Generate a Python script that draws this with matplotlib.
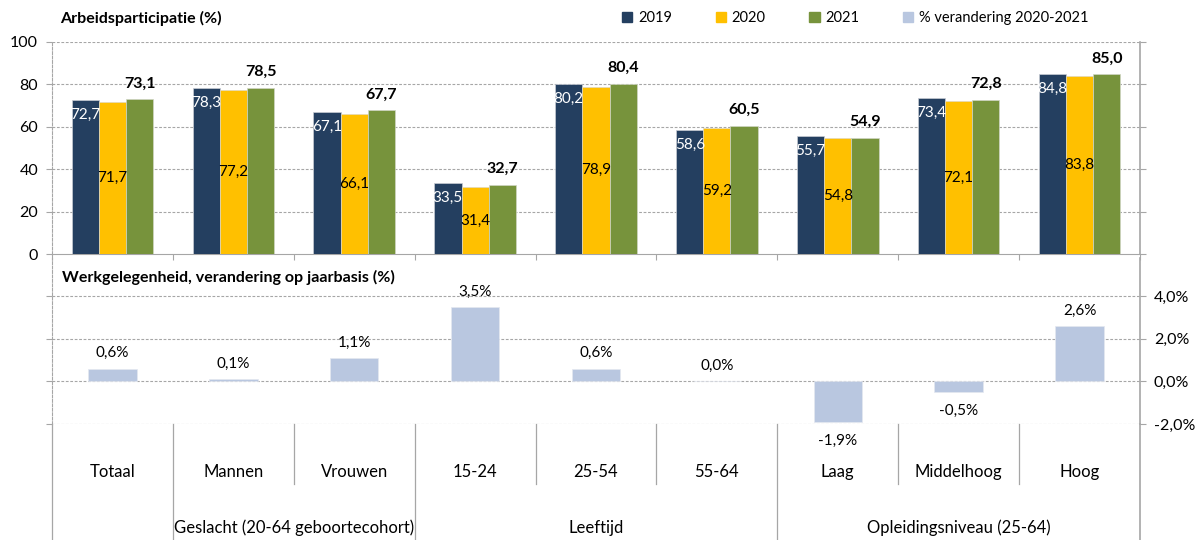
import matplotlib
matplotlib.use("Agg")
import matplotlib.pyplot as plt
import matplotlib.transforms as mtransforms
from matplotlib.patches import Patch
import numpy as np

plt.rcParams['font.family'] = ['Lato', 'DejaVu Sans']

categories = ["Totaal", "Mannen", "Vrouwen", "15-24", "25-54", "55-64",
              "Laag", "Middelhoog", "Hoog"]
groups = ["Geslacht (20-64 geboortecohort)", "Leeftijd", "Opleidingsniveau (25-64)"]
group_centers = [1.5, 4, 7]
group_bounds = [-0.5, 0.5, 2.5, 5.5, 8.5]

v2019 = [72.7, 78.3, 67.1, 33.5, 80.2, 58.6, 55.7, 73.4, 84.8]
v2020 = [71.7, 77.2, 66.1, 31.4, 78.9, 59.2, 54.8, 72.1, 83.8]
v2021 = [73.1, 78.5, 67.7, 32.7, 80.4, 60.5, 54.9, 72.8, 85.0]
change = [0.6, 0.1, 1.1, 3.5, 0.6, 0.0, -1.9, -0.5, 2.6]

c19, c20, c21, cch = '#243f60', '#ffc000', '#77933c', '#b9c7e0'
grid = '#a6a6a6'
W, H = 1196, 540


def fmt(v):
    return f"{v:.1f}".replace('.', ',')


fig = plt.figure(figsize=(W / 100, H / 100), dpi=100)
ax1 = fig.add_axes([52 / W, 1 - 254 / H, 1088 / W, 212 / H])
ax2 = fig.add_axes([52 / W, 1 - 424 / H, 1088 / W, 166 / H])

x = np.arange(len(categories))
bw = 0.225

# ---- top chart: arbeidsparticipatie
ax1.bar(x - bw, v2019, bw, color=c19, edgecolor='#c8ccd4', linewidth=0.5, zorder=3)
ax1.bar(x, v2020, bw, color=c20, edgecolor='#e0d8c0', linewidth=0.5, zorder=3)
ax1.bar(x + bw, v2021, bw, color=c21, edgecolor='#d0d6c4', linewidth=0.5, zorder=3)
for i in range(len(x)):
    ax1.text(x[i] - bw, v2019[i] - 7, fmt(v2019[i]), color='white', ha='center',
             va='center', fontsize=11, zorder=4)
    ax1.text(x[i], v2020[i] / 2, fmt(v2020[i]), color='black', ha='center',
             va='center', fontsize=11, zorder=4)
    ax1.text(x[i] + bw, v2021[i] + 7.3, fmt(v2021[i]), color='black', ha='center',
             va='center', fontsize=11.5, fontweight='bold', zorder=4)

ax1.set_xlim(-0.5, 8.5)
ax1.set_ylim(0, 100)
ax1.set_yticks(range(0, 101, 20))
for yv in range(20, 101, 20):
    ax1.axhline(yv, color=grid, lw=0.8, ls=(0, (2.5, 1.5)), zorder=1)
ax1.set_xticks(np.arange(-0.5, 8.6, 1))
ax1.set_xticklabels([])
ax1.tick_params(axis='x', length=4, color=grid, direction='out')
ax1.tick_params(axis='y', length=4, color=grid, labelsize=11.5, right=True,
                pad=6)
ax1.spines['top'].set_visible(False)
ax1.spines['left'].set_color(grid)
ax1.spines['left'].set_linestyle((0, (2.5, 1.5)))
ax1.spines['left'].set_linewidth(0.8)
ax1.spines['bottom'].set_color(grid)
ax1.spines['right'].set_color(grid)
ax1.spines['right'].set_linewidth(1.2)
ax1.patch.set_alpha(0)

# ---- bottom chart: werkgelegenheid
ax2.bar(x, change, 0.4, color=cch, edgecolor='#e4e8f0', linewidth=0.5, zorder=3)
for i, v in enumerate(change):
    if v >= 0:
        ax2.annotate(fmt(v) + '%', (x[i], v), xytext=(0, 11), textcoords='offset points',
                     ha='center', va='center', fontsize=11)
    else:
        ax2.annotate(fmt(v) + '%', (x[i], v), xytext=(0, -13.5), textcoords='offset points',
                     ha='center', va='center', fontsize=11)

ax2.set_xlim(-0.5, 8.5)
ax2.set_ylim(-2, 5.8)
ax2.set_yticks([-2, 0, 2, 4])
ax2.set_yticklabels([fmt(v) + '%' for v in [-2, 0, 2, 4]])
for yv in [-2, 0, 2, 4]:
    ax2.axhline(yv, color=grid, lw=0.8, ls=(0, (2.5, 1.5)), zorder=1)
ax2.set_xticks([])
ax2.tick_params(axis='y', length=4, color=grid, labelsize=11.5, left=True,
                right=True, labelleft=False, labelright=True, pad=6)
for s in ['top', 'bottom']:
    ax2.spines[s].set_visible(False)
ax2.spines['left'].set_color(grid)
ax2.spines['left'].set_linestyle((0, (2.5, 1.5)))
ax2.spines['left'].set_linewidth(0.8)
ax2.spines['right'].set_color(grid)
ax2.spines['right'].set_linewidth(1.2)
ax2.patch.set_alpha(0)

# ---- category axis below the charts
tr = mtransforms.blended_transform_factory(ax2.transData, fig.transFigure)
for b in np.arange(-0.5, 8.6, 1):
    y_end = 0.0 if b in group_bounds else 1 - 484 / H
    lw = 1.2 if b == 8.5 else 0.9
    ax2.plot([b, b], [1 - 424 / H, y_end], transform=tr, color=grid, lw=lw,
             clip_on=False)
for i, c in enumerate(categories):
    ax2.text(x[i], 1 - 472 / H, c, transform=tr, ha='center', va='center',
             fontsize=12)
for g, gc in zip(groups, group_centers):
    ax2.text(gc, 1 - 528 / H, g, transform=tr, ha='center', va='center',
             fontsize=12)

# ---- titles and legend
fig.text(60 / W, 1 - 18 / H, "Arbeidsparticipatie (%)", fontsize=11.5,
         fontweight='bold', va='center')
fig.text(62 / W, 1 - 277 / H, "Werkgelegenheid, verandering op jaarbasis (%)",
         fontsize=11.5, fontweight='bold', va='center')
handles = [Patch(color=c19, label='2019'), Patch(color=c20, label='2020'),
           Patch(color=c21, label='2021'),
           Patch(color=cch, label='% verandering 2020-2021')]
fig.legend(handles=handles, loc='center left', bbox_to_anchor=(622 / W, 1 - 18 / H),
           ncol=4, frameon=False, fontsize=10.5, handlelength=0.7, handleheight=0.7,
           handletextpad=0.4, columnspacing=3.0, borderaxespad=0, borderpad=0)

fig.savefig('out.png', dpi=100)
